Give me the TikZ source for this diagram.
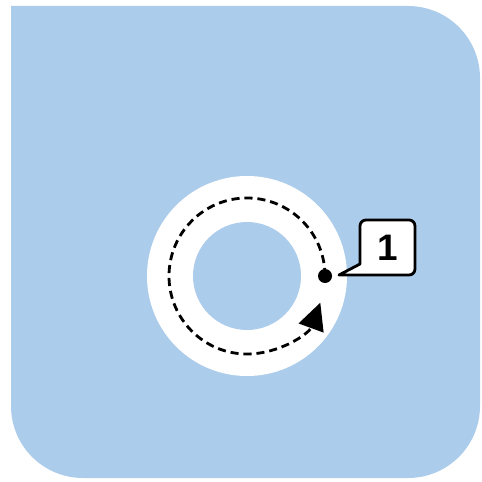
\documentclass[tikz,border=0pt]{standalone}
\usepackage{fontspec}
\setsansfont{Liberation Sans}
\usepackage{xcolor}
\usepackage{tikz}
\usetikzlibrary{arrows.meta,positioning,calc}
\definecolor{panelblue}{RGB}{172,204,235}

\begin{document}
\begin{tikzpicture}[x=0.02cm,y=-0.02cm,>=Stealth,
    loopline/.style={line width=1.6pt,dash pattern=on 4.6pt off 2.8pt},
    callbox/.style={draw,line width=1.6pt,fill=white,line join=round}]
  \useasboundingbox (0,0) rectangle (481,482);

  % Panel (top left corner stays square)
  \fill[panelblue] (11,6) -- (408,6) arc[start angle=-90,end angle=0,radius=72]
    -- (480,406) arc[start angle=0,end angle=90,radius=72]
    -- (83,478) arc[start angle=90,end angle=180,radius=72] -- cycle;

  % White ring
  \coordinate (c) at (247,276);
  \fill[white] (c) circle[radius=100];
  \fill[panelblue] (c) circle[radius=54];

  % Dashed loop with its start point
  \coordinate (start) at ($(c)+(78,0)$);
  \draw[loopline,-{Triangle[length=0.54cm,width=0.52cm]}]
    (start) arc[start angle=0,end angle=-340,radius=78];
  \fill (start) circle[radius=7];

  % Callout
  \draw[callbox] (339,275) -- (360,264) -- (360,226) arc[start angle=180,end angle=270,radius=6]
    -- (409,220) arc[start angle=270,end angle=360,radius=6]
    -- (415,269) arc[start angle=0,end angle=90,radius=6] -- cycle;
  \node[font=\sffamily\bfseries\fontsize{21}{21}\selectfont] (num) at (387.5,247.5) {1};
\end{tikzpicture}
\end{document}
